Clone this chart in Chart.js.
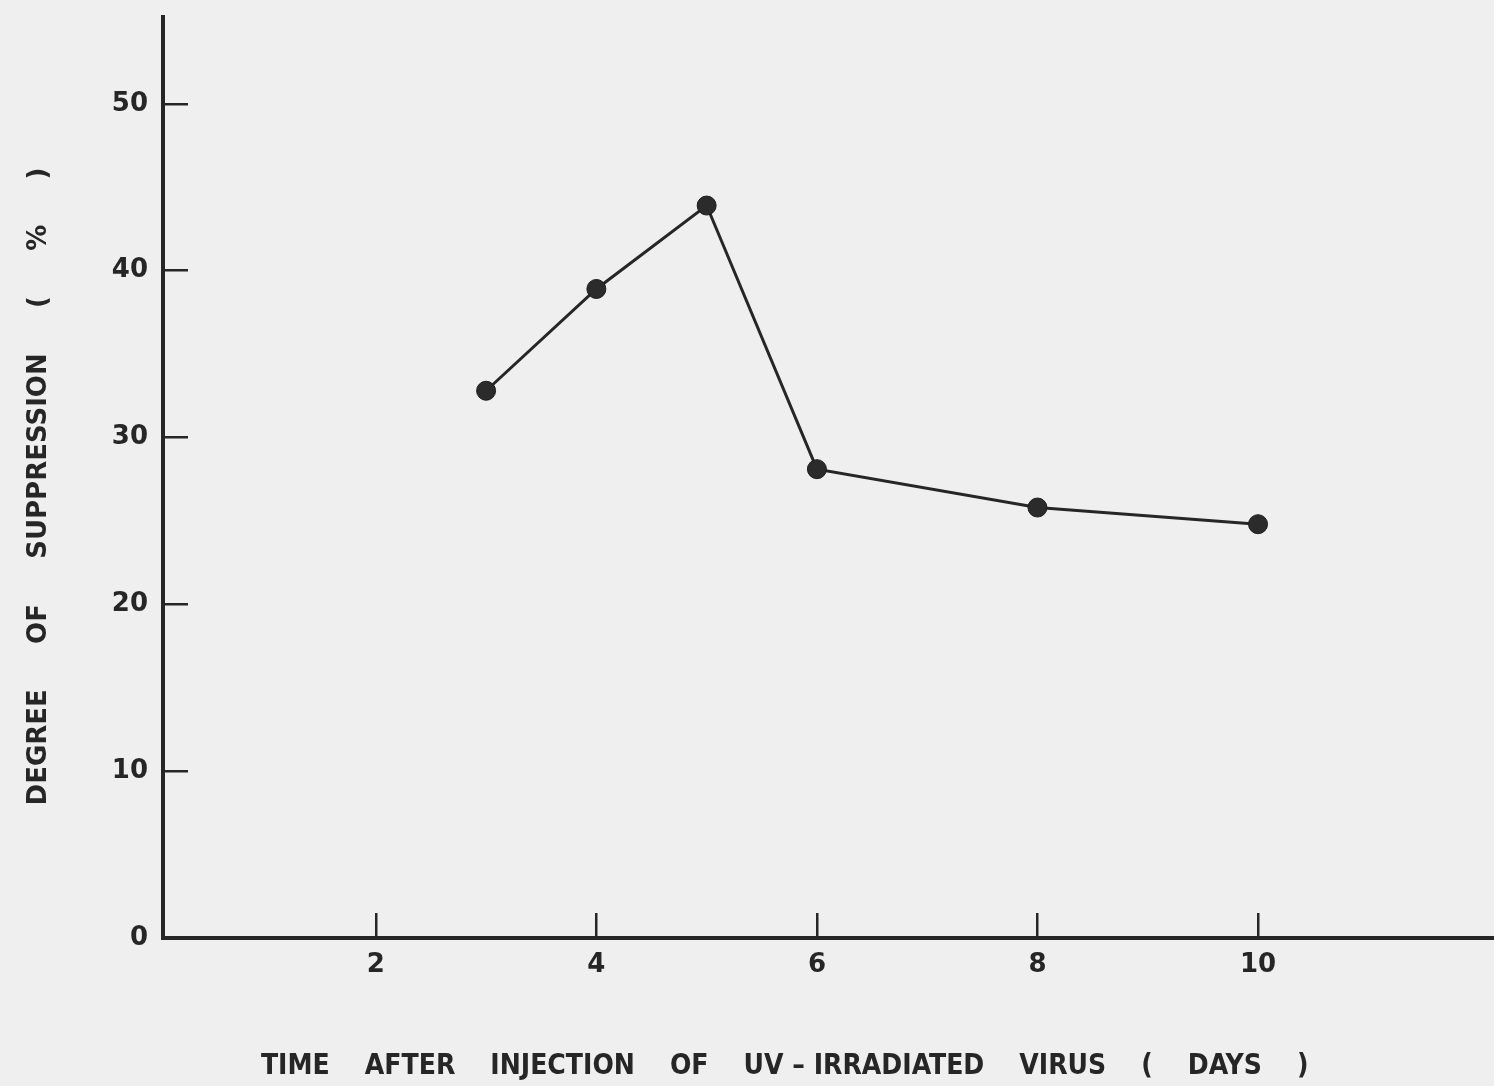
<!DOCTYPE html>
<html>
<head>
<meta charset="utf-8">
<script src="https://cdn.jsdelivr.net/npm/chart.js@4.4.1/dist/chart.umd.min.js"></script>
<style>
  html, body { margin: 0; padding: 0; background: #efefef; overflow: hidden; }
  #wrap { width: 1494px; height: 1086px; position: relative; }
</style>
</head>
<body>
<div id="wrap"><canvas id="chart"></canvas></div>
<script>
// Degree of suppression measured on each day after injection
const days = [3, 4, 5, 6, 8, 10];
const suppression = [32.8, 38.9, 43.9, 28.1, 25.8, 24.8];

// Axis tick positions
const xTickValues = [2, 4, 6, 8, 10];
const yTickValues = [0, 10, 20, 30, 40, 50];

const xTitle = 'TIME    AFTER    INJECTION    OF    UV – IRRADIATED    VIRUS    (    DAYS    )';
const yTitle = 'DEGREE     OF     SUPPRESSION     (     %     )';

const INK = '#262626';
const tickFont = { family: '"DejaVu Sans", sans-serif', size: 26, weight: 'bold' };

const points = days.map((d, i) => ({ x: d, y: suppression[i] }));

// Keep the plot frame exactly where the axes define it (no automatic label margins)
const noEdgePadding = s => { s.paddingTop = 0; s.paddingBottom = 0; s.paddingLeft = 0; s.paddingRight = 0; };

new Chart(document.getElementById('chart'), {
  type: 'scatter',
  data: {
    datasets: [{
      data: points,
      showLine: true,
      borderColor: INK,
      borderWidth: 3,
      pointRadius: 9.5,
      pointHoverRadius: 9.5,
      pointBackgroundColor: '#2b2b2b',
      pointBorderColor: '#1c1c1c',
      pointBorderWidth: 1,
      tension: 0
    }]
  },
  options: {
    responsive: true,
    maintainAspectRatio: false,
    animation: false,
    events: [],
    layout: { autoPadding: false, padding: { top: 17, right: 0, bottom: 0, left: 0 } },
    plugins: { legend: { display: false }, tooltip: { enabled: false } },
    scales: {
      x: {
        type: 'linear',
        position: 'bottom',
        min: 0.07,
        max: 12.14,
        afterBuildTicks: s => { s.ticks = xTickValues.map(v => ({ value: v })); },
        afterFit: s => { s.height = 148; noEdgePadding(s); },
        border: { display: true, width: 4, color: INK },
        grid: { drawOnChartArea: false, drawTicks: true, tickLength: -25, color: INK, lineWidth: 2.5 },
        ticks: { color: INK, font: tickFont, padding: 37, maxRotation: 0 },
        title: {
          display: true,
          text: xTitle + '          ',
          color: INK,
          font: { family: '"DejaVu Sans Condensed", "Liberation Sans Narrow", sans-serif', size: 28, weight: 'bold' },
          padding: { top: 0, bottom: 2 }
        }
      },
      y: {
        type: 'linear',
        position: 'left',
        min: 0,
        max: 55.2,
        afterBuildTicks: s => { s.ticks = yTickValues.map(v => ({ value: v })); },
        afterFit: s => { s.width = 163; noEdgePadding(s); },
        border: { display: true, width: 4, color: INK },
        grid: { drawOnChartArea: false, drawTicks: true, tickLength: -25, color: INK, lineWidth: 2.5 },
        ticks: { color: INK, font: tickFont, padding: 40 },
        title: {
          display: true,
          text: yTitle + '  ',
          color: INK,
          font: { family: '"DejaVu Sans", sans-serif', size: 26, weight: 'bold' },
          padding: { top: 24, bottom: 0 }
        }
      }
    }
  }
});
</script>
</body>
</html>
